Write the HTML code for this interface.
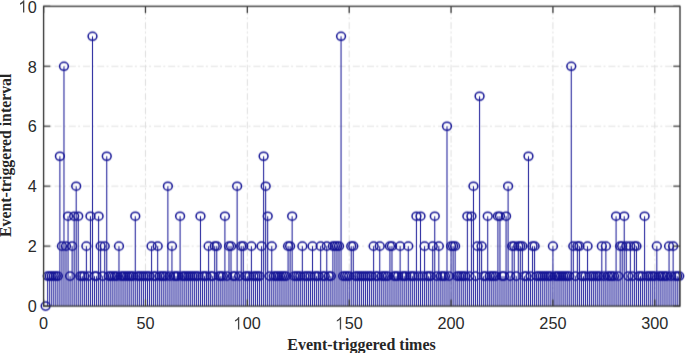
<!DOCTYPE html>
<html><head><meta charset="utf-8"><style>
html,body{margin:0;padding:0;background:#fff;width:685px;height:353px;overflow:hidden;font-family:"Liberation Sans",sans-serif;}
svg{display:block}
</style></head><body>
<svg width="685" height="353" viewBox="0 0 685 353"><defs><filter id="bl" x="0" y="0" width="685" height="353" filterUnits="userSpaceOnUse" color-interpolation-filters="sRGB"><feConvolveMatrix order="3" kernelMatrix="0.01600 0.16800 0.01600 0.04800 0.50400 0.04800 0.01600 0.16800 0.01600" divisor="1" edgeMode="none"/></filter></defs><rect width="685" height="353" fill="#fff"/><g filter="url(#bl)"><g stroke="#dfdfdf" stroke-width="1" stroke-dasharray="7 2.3 2 2.9"><line x1="145.47" y1="6.35" x2="145.47" y2="306.1" stroke-dashoffset="12.55"/><line x1="247.33" y1="6.35" x2="247.33" y2="306.1" stroke-dashoffset="12.55"/><line x1="349.20" y1="6.35" x2="349.20" y2="306.1" stroke-dashoffset="12.55"/><line x1="451.06" y1="6.35" x2="451.06" y2="306.1" stroke-dashoffset="12.55"/><line x1="552.93" y1="6.35" x2="552.93" y2="306.1" stroke-dashoffset="12.55"/><line x1="654.79" y1="6.35" x2="654.79" y2="306.1" stroke-dashoffset="12.55"/><line x1="43.6" y1="246.15" x2="680.0" y2="246.15" stroke-dashoffset="3.2"/><line x1="43.6" y1="186.20" x2="680.0" y2="186.20" stroke-dashoffset="3.2"/><line x1="43.6" y1="126.25" x2="680.0" y2="126.25" stroke-dashoffset="3.2"/><line x1="43.6" y1="66.30" x2="680.0" y2="66.30" stroke-dashoffset="3.2"/></g>
<path d="M47.67 306.1V276.12M49.71 306.1V276.12M51.75 306.1V276.12M53.79 306.1V276.12M55.82 306.1V276.12M57.86 306.1V276.12M59.90 306.1V156.23M61.94 306.1V246.15M63.97 306.1V66.30M66.01 306.1V246.15M68.05 306.1V216.18M70.08 306.1V276.12M72.12 306.1V246.15M74.16 306.1V216.18M76.20 306.1V186.20M78.23 306.1V216.18M80.27 306.1V276.12M82.31 306.1V276.12M84.35 306.1V276.12M86.38 306.1V246.15M88.42 306.1V276.12M90.46 306.1V216.18M92.50 306.1V36.32M94.53 306.1V276.12M96.57 306.1V276.12M98.61 306.1V216.18M100.64 306.1V246.15M102.68 306.1V276.12M104.72 306.1V246.15M106.76 306.1V156.23M108.79 306.1V276.12M110.83 306.1V276.12M112.87 306.1V276.12M114.91 306.1V276.12M116.94 306.1V276.12M118.98 306.1V246.15M121.02 306.1V276.12M123.05 306.1V276.12M125.09 306.1V276.12M127.13 306.1V276.12M129.17 306.1V276.12M131.20 306.1V276.12M133.24 306.1V276.12M135.28 306.1V216.18M137.32 306.1V276.12M139.35 306.1V276.12M141.39 306.1V276.12M143.43 306.1V276.12M145.47 306.1V276.12M147.50 306.1V276.12M149.54 306.1V276.12M151.58 306.1V246.15M153.61 306.1V276.12M155.65 306.1V276.12M157.69 306.1V246.15M159.73 306.1V276.12M161.76 306.1V276.12M163.80 306.1V276.12M165.84 306.1V276.12M167.88 306.1V186.20M169.91 306.1V276.12M171.95 306.1V246.15M173.99 306.1V276.12M176.02 306.1V276.12M178.06 306.1V276.12M180.10 306.1V216.18M182.14 306.1V276.12M184.17 306.1V276.12M186.21 306.1V276.12M188.25 306.1V276.12M190.29 306.1V276.12M192.32 306.1V276.12M194.36 306.1V276.12M196.40 306.1V276.12M198.43 306.1V276.12M200.47 306.1V216.18M202.51 306.1V276.12M204.55 306.1V276.12M206.58 306.1V276.12M208.62 306.1V246.15M210.66 306.1V276.12M212.70 306.1V276.12M214.73 306.1V246.15M216.77 306.1V246.15M218.81 306.1V276.12M220.85 306.1V276.12M222.88 306.1V276.12M224.92 306.1V216.18M226.96 306.1V276.12M228.99 306.1V246.15M231.03 306.1V246.15M233.07 306.1V276.12M235.11 306.1V276.12M237.14 306.1V186.20M239.18 306.1V276.12M241.22 306.1V246.15M243.26 306.1V246.15M245.29 306.1V276.12M247.33 306.1V276.12M249.37 306.1V276.12M251.40 306.1V246.15M253.44 306.1V276.12M255.48 306.1V276.12M257.52 306.1V276.12M259.55 306.1V276.12M261.59 306.1V246.15M263.63 306.1V156.23M265.67 306.1V186.20M267.70 306.1V216.18M269.74 306.1V276.12M271.78 306.1V246.15M273.81 306.1V276.12M275.85 306.1V276.12M277.89 306.1V276.12M279.93 306.1V276.12M281.96 306.1V276.12M284.00 306.1V276.12M286.04 306.1V276.12M288.08 306.1V246.15M290.11 306.1V246.15M292.15 306.1V216.18M294.19 306.1V276.12M296.23 306.1V276.12M298.26 306.1V276.12M300.30 306.1V276.12M302.34 306.1V246.15M304.37 306.1V276.12M306.41 306.1V276.12M308.45 306.1V276.12M310.49 306.1V276.12M312.52 306.1V246.15M314.56 306.1V276.12M316.60 306.1V276.12M318.64 306.1V276.12M320.67 306.1V246.15M322.71 306.1V276.12M324.75 306.1V276.12M326.78 306.1V246.15M328.82 306.1V276.12M330.86 306.1V276.12M332.90 306.1V246.15M334.93 306.1V246.15M336.97 306.1V246.15M339.01 306.1V246.15M341.05 306.1V36.32M343.08 306.1V276.12M345.12 306.1V276.12M347.16 306.1V276.12M349.20 306.1V276.12M351.23 306.1V246.15M353.27 306.1V246.15M355.31 306.1V276.12M357.34 306.1V276.12M359.38 306.1V276.12M361.42 306.1V276.12M363.46 306.1V276.12M365.49 306.1V276.12M367.53 306.1V276.12M369.57 306.1V276.12M371.61 306.1V276.12M373.64 306.1V246.15M375.68 306.1V276.12M377.72 306.1V276.12M379.75 306.1V246.15M381.79 306.1V276.12M383.83 306.1V276.12M385.87 306.1V276.12M387.90 306.1V276.12M389.94 306.1V246.15M391.98 306.1V246.15M394.02 306.1V276.12M396.05 306.1V276.12M398.09 306.1V276.12M400.13 306.1V246.15M402.16 306.1V276.12M404.20 306.1V276.12M406.24 306.1V276.12M408.28 306.1V246.15M410.31 306.1V276.12M412.35 306.1V276.12M414.39 306.1V276.12M416.43 306.1V216.18M418.46 306.1V276.12M420.50 306.1V216.18M422.54 306.1V276.12M424.58 306.1V246.15M426.61 306.1V276.12M428.65 306.1V276.12M430.69 306.1V276.12M432.72 306.1V246.15M434.76 306.1V216.18M436.80 306.1V276.12M438.84 306.1V246.15M440.87 306.1V276.12M442.91 306.1V276.12M444.95 306.1V276.12M446.99 306.1V126.25M449.02 306.1V276.12M451.06 306.1V246.15M453.10 306.1V246.15M455.13 306.1V246.15M457.17 306.1V276.12M459.21 306.1V276.12M461.25 306.1V276.12M463.28 306.1V276.12M465.32 306.1V276.12M467.36 306.1V216.18M469.40 306.1V276.12M471.43 306.1V216.18M473.47 306.1V186.20M475.51 306.1V276.12M477.54 306.1V246.15M479.58 306.1V96.28M481.62 306.1V246.15M483.66 306.1V276.12M485.69 306.1V276.12M487.73 306.1V216.18M489.77 306.1V276.12M491.81 306.1V276.12M493.84 306.1V276.12M495.88 306.1V276.12M497.92 306.1V216.18M499.96 306.1V216.18M501.99 306.1V276.12M504.03 306.1V276.12M506.07 306.1V216.18M508.10 306.1V186.20M510.14 306.1V276.12M512.18 306.1V246.15M514.22 306.1V246.15M516.25 306.1V276.12M518.29 306.1V246.15M520.33 306.1V246.15M522.37 306.1V246.15M524.40 306.1V276.12M526.44 306.1V276.12M528.48 306.1V156.23M530.51 306.1V276.12M532.55 306.1V246.15M534.59 306.1V246.15M536.63 306.1V276.12M538.66 306.1V276.12M540.70 306.1V276.12M542.74 306.1V276.12M544.78 306.1V276.12M546.81 306.1V276.12M548.85 306.1V276.12M550.89 306.1V276.12M552.93 306.1V246.15M554.96 306.1V276.12M557.00 306.1V276.12M559.04 306.1V276.12M561.07 306.1V276.12M563.11 306.1V276.12M565.15 306.1V276.12M567.19 306.1V276.12M569.22 306.1V276.12M571.26 306.1V66.30M573.30 306.1V246.15M575.34 306.1V276.12M577.37 306.1V246.15M579.41 306.1V246.15M581.45 306.1V276.12M583.48 306.1V276.12M585.52 306.1V276.12M587.56 306.1V246.15M589.60 306.1V276.12M591.63 306.1V276.12M593.67 306.1V276.12M595.71 306.1V276.12M597.75 306.1V276.12M599.78 306.1V276.12M601.82 306.1V246.15M603.86 306.1V276.12M605.89 306.1V246.15M607.93 306.1V276.12M609.97 306.1V276.12M612.01 306.1V276.12M614.04 306.1V276.12M616.08 306.1V216.18M618.12 306.1V276.12M620.16 306.1V246.15M622.19 306.1V246.15M624.23 306.1V216.18M626.27 306.1V246.15M628.31 306.1V276.12M630.34 306.1V246.15M632.38 306.1V276.12M634.42 306.1V246.15M636.45 306.1V246.15M638.49 306.1V276.12M640.53 306.1V276.12M642.57 306.1V276.12M644.60 306.1V216.18M646.64 306.1V276.12M648.68 306.1V276.12M650.72 306.1V276.12M652.75 306.1V276.12M654.79 306.1V276.12M656.83 306.1V246.15M658.86 306.1V276.12M660.90 306.1V276.12M662.94 306.1V276.12M664.98 306.1V276.12M667.01 306.1V276.12M669.05 306.1V246.15M671.09 306.1V276.12M673.13 306.1V246.15M675.16 306.1V276.12M677.20 306.1V276.12M679.24 306.1V276.12" stroke="#121294" stroke-width="1" fill="none" stroke-opacity="1"/>
<g fill="none" stroke="#121294" stroke-width="1.5"><ellipse cx="45.64" cy="306.10" rx="4.4" ry="4.05"/><ellipse cx="47.67" cy="276.12" rx="4.4" ry="4.05"/><ellipse cx="49.71" cy="276.12" rx="4.4" ry="4.05"/><ellipse cx="51.75" cy="276.12" rx="4.4" ry="4.05"/><ellipse cx="53.79" cy="276.12" rx="4.4" ry="4.05"/><ellipse cx="55.82" cy="276.12" rx="4.4" ry="4.05"/><ellipse cx="57.86" cy="276.12" rx="4.4" ry="4.05"/><ellipse cx="59.90" cy="156.23" rx="4.4" ry="4.05"/><ellipse cx="61.94" cy="246.15" rx="4.4" ry="4.05"/><ellipse cx="63.97" cy="66.30" rx="4.4" ry="4.05"/><ellipse cx="66.01" cy="246.15" rx="4.4" ry="4.05"/><ellipse cx="68.05" cy="216.18" rx="4.4" ry="4.05"/><ellipse cx="70.08" cy="276.12" rx="4.4" ry="4.05"/><ellipse cx="72.12" cy="246.15" rx="4.4" ry="4.05"/><ellipse cx="74.16" cy="216.18" rx="4.4" ry="4.05"/><ellipse cx="76.20" cy="186.20" rx="4.4" ry="4.05"/><ellipse cx="78.23" cy="216.18" rx="4.4" ry="4.05"/><ellipse cx="80.27" cy="276.12" rx="4.4" ry="4.05"/><ellipse cx="82.31" cy="276.12" rx="4.4" ry="4.05"/><ellipse cx="84.35" cy="276.12" rx="4.4" ry="4.05"/><ellipse cx="86.38" cy="246.15" rx="4.4" ry="4.05"/><ellipse cx="88.42" cy="276.12" rx="4.4" ry="4.05"/><ellipse cx="90.46" cy="216.18" rx="4.4" ry="4.05"/><ellipse cx="92.50" cy="36.32" rx="4.4" ry="4.05"/><ellipse cx="94.53" cy="276.12" rx="4.4" ry="4.05"/><ellipse cx="96.57" cy="276.12" rx="4.4" ry="4.05"/><ellipse cx="98.61" cy="216.18" rx="4.4" ry="4.05"/><ellipse cx="100.64" cy="246.15" rx="4.4" ry="4.05"/><ellipse cx="102.68" cy="276.12" rx="4.4" ry="4.05"/><ellipse cx="104.72" cy="246.15" rx="4.4" ry="4.05"/><ellipse cx="106.76" cy="156.23" rx="4.4" ry="4.05"/><ellipse cx="108.79" cy="276.12" rx="4.4" ry="4.05"/><ellipse cx="110.83" cy="276.12" rx="4.4" ry="4.05"/><ellipse cx="112.87" cy="276.12" rx="4.4" ry="4.05"/><ellipse cx="114.91" cy="276.12" rx="4.4" ry="4.05"/><ellipse cx="116.94" cy="276.12" rx="4.4" ry="4.05"/><ellipse cx="118.98" cy="246.15" rx="4.4" ry="4.05"/><ellipse cx="121.02" cy="276.12" rx="4.4" ry="4.05"/><ellipse cx="123.05" cy="276.12" rx="4.4" ry="4.05"/><ellipse cx="125.09" cy="276.12" rx="4.4" ry="4.05"/><ellipse cx="127.13" cy="276.12" rx="4.4" ry="4.05"/><ellipse cx="129.17" cy="276.12" rx="4.4" ry="4.05"/><ellipse cx="131.20" cy="276.12" rx="4.4" ry="4.05"/><ellipse cx="133.24" cy="276.12" rx="4.4" ry="4.05"/><ellipse cx="135.28" cy="216.18" rx="4.4" ry="4.05"/><ellipse cx="137.32" cy="276.12" rx="4.4" ry="4.05"/><ellipse cx="139.35" cy="276.12" rx="4.4" ry="4.05"/><ellipse cx="141.39" cy="276.12" rx="4.4" ry="4.05"/><ellipse cx="143.43" cy="276.12" rx="4.4" ry="4.05"/><ellipse cx="145.47" cy="276.12" rx="4.4" ry="4.05"/><ellipse cx="147.50" cy="276.12" rx="4.4" ry="4.05"/><ellipse cx="149.54" cy="276.12" rx="4.4" ry="4.05"/><ellipse cx="151.58" cy="246.15" rx="4.4" ry="4.05"/><ellipse cx="153.61" cy="276.12" rx="4.4" ry="4.05"/><ellipse cx="155.65" cy="276.12" rx="4.4" ry="4.05"/><ellipse cx="157.69" cy="246.15" rx="4.4" ry="4.05"/><ellipse cx="159.73" cy="276.12" rx="4.4" ry="4.05"/><ellipse cx="161.76" cy="276.12" rx="4.4" ry="4.05"/><ellipse cx="163.80" cy="276.12" rx="4.4" ry="4.05"/><ellipse cx="165.84" cy="276.12" rx="4.4" ry="4.05"/><ellipse cx="167.88" cy="186.20" rx="4.4" ry="4.05"/><ellipse cx="169.91" cy="276.12" rx="4.4" ry="4.05"/><ellipse cx="171.95" cy="246.15" rx="4.4" ry="4.05"/><ellipse cx="173.99" cy="276.12" rx="4.4" ry="4.05"/><ellipse cx="176.02" cy="276.12" rx="4.4" ry="4.05"/><ellipse cx="178.06" cy="276.12" rx="4.4" ry="4.05"/><ellipse cx="180.10" cy="216.18" rx="4.4" ry="4.05"/><ellipse cx="182.14" cy="276.12" rx="4.4" ry="4.05"/><ellipse cx="184.17" cy="276.12" rx="4.4" ry="4.05"/><ellipse cx="186.21" cy="276.12" rx="4.4" ry="4.05"/><ellipse cx="188.25" cy="276.12" rx="4.4" ry="4.05"/><ellipse cx="190.29" cy="276.12" rx="4.4" ry="4.05"/><ellipse cx="192.32" cy="276.12" rx="4.4" ry="4.05"/><ellipse cx="194.36" cy="276.12" rx="4.4" ry="4.05"/><ellipse cx="196.40" cy="276.12" rx="4.4" ry="4.05"/><ellipse cx="198.43" cy="276.12" rx="4.4" ry="4.05"/><ellipse cx="200.47" cy="216.18" rx="4.4" ry="4.05"/><ellipse cx="202.51" cy="276.12" rx="4.4" ry="4.05"/><ellipse cx="204.55" cy="276.12" rx="4.4" ry="4.05"/><ellipse cx="206.58" cy="276.12" rx="4.4" ry="4.05"/><ellipse cx="208.62" cy="246.15" rx="4.4" ry="4.05"/><ellipse cx="210.66" cy="276.12" rx="4.4" ry="4.05"/><ellipse cx="212.70" cy="276.12" rx="4.4" ry="4.05"/><ellipse cx="214.73" cy="246.15" rx="4.4" ry="4.05"/><ellipse cx="216.77" cy="246.15" rx="4.4" ry="4.05"/><ellipse cx="218.81" cy="276.12" rx="4.4" ry="4.05"/><ellipse cx="220.85" cy="276.12" rx="4.4" ry="4.05"/><ellipse cx="222.88" cy="276.12" rx="4.4" ry="4.05"/><ellipse cx="224.92" cy="216.18" rx="4.4" ry="4.05"/><ellipse cx="226.96" cy="276.12" rx="4.4" ry="4.05"/><ellipse cx="228.99" cy="246.15" rx="4.4" ry="4.05"/><ellipse cx="231.03" cy="246.15" rx="4.4" ry="4.05"/><ellipse cx="233.07" cy="276.12" rx="4.4" ry="4.05"/><ellipse cx="235.11" cy="276.12" rx="4.4" ry="4.05"/><ellipse cx="237.14" cy="186.20" rx="4.4" ry="4.05"/><ellipse cx="239.18" cy="276.12" rx="4.4" ry="4.05"/><ellipse cx="241.22" cy="246.15" rx="4.4" ry="4.05"/><ellipse cx="243.26" cy="246.15" rx="4.4" ry="4.05"/><ellipse cx="245.29" cy="276.12" rx="4.4" ry="4.05"/><ellipse cx="247.33" cy="276.12" rx="4.4" ry="4.05"/><ellipse cx="249.37" cy="276.12" rx="4.4" ry="4.05"/><ellipse cx="251.40" cy="246.15" rx="4.4" ry="4.05"/><ellipse cx="253.44" cy="276.12" rx="4.4" ry="4.05"/><ellipse cx="255.48" cy="276.12" rx="4.4" ry="4.05"/><ellipse cx="257.52" cy="276.12" rx="4.4" ry="4.05"/><ellipse cx="259.55" cy="276.12" rx="4.4" ry="4.05"/><ellipse cx="261.59" cy="246.15" rx="4.4" ry="4.05"/><ellipse cx="263.63" cy="156.23" rx="4.4" ry="4.05"/><ellipse cx="265.67" cy="186.20" rx="4.4" ry="4.05"/><ellipse cx="267.70" cy="216.18" rx="4.4" ry="4.05"/><ellipse cx="269.74" cy="276.12" rx="4.4" ry="4.05"/><ellipse cx="271.78" cy="246.15" rx="4.4" ry="4.05"/><ellipse cx="273.81" cy="276.12" rx="4.4" ry="4.05"/><ellipse cx="275.85" cy="276.12" rx="4.4" ry="4.05"/><ellipse cx="277.89" cy="276.12" rx="4.4" ry="4.05"/><ellipse cx="279.93" cy="276.12" rx="4.4" ry="4.05"/><ellipse cx="281.96" cy="276.12" rx="4.4" ry="4.05"/><ellipse cx="284.00" cy="276.12" rx="4.4" ry="4.05"/><ellipse cx="286.04" cy="276.12" rx="4.4" ry="4.05"/><ellipse cx="288.08" cy="246.15" rx="4.4" ry="4.05"/><ellipse cx="290.11" cy="246.15" rx="4.4" ry="4.05"/><ellipse cx="292.15" cy="216.18" rx="4.4" ry="4.05"/><ellipse cx="294.19" cy="276.12" rx="4.4" ry="4.05"/><ellipse cx="296.23" cy="276.12" rx="4.4" ry="4.05"/><ellipse cx="298.26" cy="276.12" rx="4.4" ry="4.05"/><ellipse cx="300.30" cy="276.12" rx="4.4" ry="4.05"/><ellipse cx="302.34" cy="246.15" rx="4.4" ry="4.05"/><ellipse cx="304.37" cy="276.12" rx="4.4" ry="4.05"/><ellipse cx="306.41" cy="276.12" rx="4.4" ry="4.05"/><ellipse cx="308.45" cy="276.12" rx="4.4" ry="4.05"/><ellipse cx="310.49" cy="276.12" rx="4.4" ry="4.05"/><ellipse cx="312.52" cy="246.15" rx="4.4" ry="4.05"/><ellipse cx="314.56" cy="276.12" rx="4.4" ry="4.05"/><ellipse cx="316.60" cy="276.12" rx="4.4" ry="4.05"/><ellipse cx="318.64" cy="276.12" rx="4.4" ry="4.05"/><ellipse cx="320.67" cy="246.15" rx="4.4" ry="4.05"/><ellipse cx="322.71" cy="276.12" rx="4.4" ry="4.05"/><ellipse cx="324.75" cy="276.12" rx="4.4" ry="4.05"/><ellipse cx="326.78" cy="246.15" rx="4.4" ry="4.05"/><ellipse cx="328.82" cy="276.12" rx="4.4" ry="4.05"/><ellipse cx="330.86" cy="276.12" rx="4.4" ry="4.05"/><ellipse cx="332.90" cy="246.15" rx="4.4" ry="4.05"/><ellipse cx="334.93" cy="246.15" rx="4.4" ry="4.05"/><ellipse cx="336.97" cy="246.15" rx="4.4" ry="4.05"/><ellipse cx="339.01" cy="246.15" rx="4.4" ry="4.05"/><ellipse cx="341.05" cy="36.32" rx="4.4" ry="4.05"/><ellipse cx="343.08" cy="276.12" rx="4.4" ry="4.05"/><ellipse cx="345.12" cy="276.12" rx="4.4" ry="4.05"/><ellipse cx="347.16" cy="276.12" rx="4.4" ry="4.05"/><ellipse cx="349.20" cy="276.12" rx="4.4" ry="4.05"/><ellipse cx="351.23" cy="246.15" rx="4.4" ry="4.05"/><ellipse cx="353.27" cy="246.15" rx="4.4" ry="4.05"/><ellipse cx="355.31" cy="276.12" rx="4.4" ry="4.05"/><ellipse cx="357.34" cy="276.12" rx="4.4" ry="4.05"/><ellipse cx="359.38" cy="276.12" rx="4.4" ry="4.05"/><ellipse cx="361.42" cy="276.12" rx="4.4" ry="4.05"/><ellipse cx="363.46" cy="276.12" rx="4.4" ry="4.05"/><ellipse cx="365.49" cy="276.12" rx="4.4" ry="4.05"/><ellipse cx="367.53" cy="276.12" rx="4.4" ry="4.05"/><ellipse cx="369.57" cy="276.12" rx="4.4" ry="4.05"/><ellipse cx="371.61" cy="276.12" rx="4.4" ry="4.05"/><ellipse cx="373.64" cy="246.15" rx="4.4" ry="4.05"/><ellipse cx="375.68" cy="276.12" rx="4.4" ry="4.05"/><ellipse cx="377.72" cy="276.12" rx="4.4" ry="4.05"/><ellipse cx="379.75" cy="246.15" rx="4.4" ry="4.05"/><ellipse cx="381.79" cy="276.12" rx="4.4" ry="4.05"/><ellipse cx="383.83" cy="276.12" rx="4.4" ry="4.05"/><ellipse cx="385.87" cy="276.12" rx="4.4" ry="4.05"/><ellipse cx="387.90" cy="276.12" rx="4.4" ry="4.05"/><ellipse cx="389.94" cy="246.15" rx="4.4" ry="4.05"/><ellipse cx="391.98" cy="246.15" rx="4.4" ry="4.05"/><ellipse cx="394.02" cy="276.12" rx="4.4" ry="4.05"/><ellipse cx="396.05" cy="276.12" rx="4.4" ry="4.05"/><ellipse cx="398.09" cy="276.12" rx="4.4" ry="4.05"/><ellipse cx="400.13" cy="246.15" rx="4.4" ry="4.05"/><ellipse cx="402.16" cy="276.12" rx="4.4" ry="4.05"/><ellipse cx="404.20" cy="276.12" rx="4.4" ry="4.05"/><ellipse cx="406.24" cy="276.12" rx="4.4" ry="4.05"/><ellipse cx="408.28" cy="246.15" rx="4.4" ry="4.05"/><ellipse cx="410.31" cy="276.12" rx="4.4" ry="4.05"/><ellipse cx="412.35" cy="276.12" rx="4.4" ry="4.05"/><ellipse cx="414.39" cy="276.12" rx="4.4" ry="4.05"/><ellipse cx="416.43" cy="216.18" rx="4.4" ry="4.05"/><ellipse cx="418.46" cy="276.12" rx="4.4" ry="4.05"/><ellipse cx="420.50" cy="216.18" rx="4.4" ry="4.05"/><ellipse cx="422.54" cy="276.12" rx="4.4" ry="4.05"/><ellipse cx="424.58" cy="246.15" rx="4.4" ry="4.05"/><ellipse cx="426.61" cy="276.12" rx="4.4" ry="4.05"/><ellipse cx="428.65" cy="276.12" rx="4.4" ry="4.05"/><ellipse cx="430.69" cy="276.12" rx="4.4" ry="4.05"/><ellipse cx="432.72" cy="246.15" rx="4.4" ry="4.05"/><ellipse cx="434.76" cy="216.18" rx="4.4" ry="4.05"/><ellipse cx="436.80" cy="276.12" rx="4.4" ry="4.05"/><ellipse cx="438.84" cy="246.15" rx="4.4" ry="4.05"/><ellipse cx="440.87" cy="276.12" rx="4.4" ry="4.05"/><ellipse cx="442.91" cy="276.12" rx="4.4" ry="4.05"/><ellipse cx="444.95" cy="276.12" rx="4.4" ry="4.05"/><ellipse cx="446.99" cy="126.25" rx="4.4" ry="4.05"/><ellipse cx="449.02" cy="276.12" rx="4.4" ry="4.05"/><ellipse cx="451.06" cy="246.15" rx="4.4" ry="4.05"/><ellipse cx="453.10" cy="246.15" rx="4.4" ry="4.05"/><ellipse cx="455.13" cy="246.15" rx="4.4" ry="4.05"/><ellipse cx="457.17" cy="276.12" rx="4.4" ry="4.05"/><ellipse cx="459.21" cy="276.12" rx="4.4" ry="4.05"/><ellipse cx="461.25" cy="276.12" rx="4.4" ry="4.05"/><ellipse cx="463.28" cy="276.12" rx="4.4" ry="4.05"/><ellipse cx="465.32" cy="276.12" rx="4.4" ry="4.05"/><ellipse cx="467.36" cy="216.18" rx="4.4" ry="4.05"/><ellipse cx="469.40" cy="276.12" rx="4.4" ry="4.05"/><ellipse cx="471.43" cy="216.18" rx="4.4" ry="4.05"/><ellipse cx="473.47" cy="186.20" rx="4.4" ry="4.05"/><ellipse cx="475.51" cy="276.12" rx="4.4" ry="4.05"/><ellipse cx="477.54" cy="246.15" rx="4.4" ry="4.05"/><ellipse cx="479.58" cy="96.28" rx="4.4" ry="4.05"/><ellipse cx="481.62" cy="246.15" rx="4.4" ry="4.05"/><ellipse cx="483.66" cy="276.12" rx="4.4" ry="4.05"/><ellipse cx="485.69" cy="276.12" rx="4.4" ry="4.05"/><ellipse cx="487.73" cy="216.18" rx="4.4" ry="4.05"/><ellipse cx="489.77" cy="276.12" rx="4.4" ry="4.05"/><ellipse cx="491.81" cy="276.12" rx="4.4" ry="4.05"/><ellipse cx="493.84" cy="276.12" rx="4.4" ry="4.05"/><ellipse cx="495.88" cy="276.12" rx="4.4" ry="4.05"/><ellipse cx="497.92" cy="216.18" rx="4.4" ry="4.05"/><ellipse cx="499.96" cy="216.18" rx="4.4" ry="4.05"/><ellipse cx="501.99" cy="276.12" rx="4.4" ry="4.05"/><ellipse cx="504.03" cy="276.12" rx="4.4" ry="4.05"/><ellipse cx="506.07" cy="216.18" rx="4.4" ry="4.05"/><ellipse cx="508.10" cy="186.20" rx="4.4" ry="4.05"/><ellipse cx="510.14" cy="276.12" rx="4.4" ry="4.05"/><ellipse cx="512.18" cy="246.15" rx="4.4" ry="4.05"/><ellipse cx="514.22" cy="246.15" rx="4.4" ry="4.05"/><ellipse cx="516.25" cy="276.12" rx="4.4" ry="4.05"/><ellipse cx="518.29" cy="246.15" rx="4.4" ry="4.05"/><ellipse cx="520.33" cy="246.15" rx="4.4" ry="4.05"/><ellipse cx="522.37" cy="246.15" rx="4.4" ry="4.05"/><ellipse cx="524.40" cy="276.12" rx="4.4" ry="4.05"/><ellipse cx="526.44" cy="276.12" rx="4.4" ry="4.05"/><ellipse cx="528.48" cy="156.23" rx="4.4" ry="4.05"/><ellipse cx="530.51" cy="276.12" rx="4.4" ry="4.05"/><ellipse cx="532.55" cy="246.15" rx="4.4" ry="4.05"/><ellipse cx="534.59" cy="246.15" rx="4.4" ry="4.05"/><ellipse cx="536.63" cy="276.12" rx="4.4" ry="4.05"/><ellipse cx="538.66" cy="276.12" rx="4.4" ry="4.05"/><ellipse cx="540.70" cy="276.12" rx="4.4" ry="4.05"/><ellipse cx="542.74" cy="276.12" rx="4.4" ry="4.05"/><ellipse cx="544.78" cy="276.12" rx="4.4" ry="4.05"/><ellipse cx="546.81" cy="276.12" rx="4.4" ry="4.05"/><ellipse cx="548.85" cy="276.12" rx="4.4" ry="4.05"/><ellipse cx="550.89" cy="276.12" rx="4.4" ry="4.05"/><ellipse cx="552.93" cy="246.15" rx="4.4" ry="4.05"/><ellipse cx="554.96" cy="276.12" rx="4.4" ry="4.05"/><ellipse cx="557.00" cy="276.12" rx="4.4" ry="4.05"/><ellipse cx="559.04" cy="276.12" rx="4.4" ry="4.05"/><ellipse cx="561.07" cy="276.12" rx="4.4" ry="4.05"/><ellipse cx="563.11" cy="276.12" rx="4.4" ry="4.05"/><ellipse cx="565.15" cy="276.12" rx="4.4" ry="4.05"/><ellipse cx="567.19" cy="276.12" rx="4.4" ry="4.05"/><ellipse cx="569.22" cy="276.12" rx="4.4" ry="4.05"/><ellipse cx="571.26" cy="66.30" rx="4.4" ry="4.05"/><ellipse cx="573.30" cy="246.15" rx="4.4" ry="4.05"/><ellipse cx="575.34" cy="276.12" rx="4.4" ry="4.05"/><ellipse cx="577.37" cy="246.15" rx="4.4" ry="4.05"/><ellipse cx="579.41" cy="246.15" rx="4.4" ry="4.05"/><ellipse cx="581.45" cy="276.12" rx="4.4" ry="4.05"/><ellipse cx="583.48" cy="276.12" rx="4.4" ry="4.05"/><ellipse cx="585.52" cy="276.12" rx="4.4" ry="4.05"/><ellipse cx="587.56" cy="246.15" rx="4.4" ry="4.05"/><ellipse cx="589.60" cy="276.12" rx="4.4" ry="4.05"/><ellipse cx="591.63" cy="276.12" rx="4.4" ry="4.05"/><ellipse cx="593.67" cy="276.12" rx="4.4" ry="4.05"/><ellipse cx="595.71" cy="276.12" rx="4.4" ry="4.05"/><ellipse cx="597.75" cy="276.12" rx="4.4" ry="4.05"/><ellipse cx="599.78" cy="276.12" rx="4.4" ry="4.05"/><ellipse cx="601.82" cy="246.15" rx="4.4" ry="4.05"/><ellipse cx="603.86" cy="276.12" rx="4.4" ry="4.05"/><ellipse cx="605.89" cy="246.15" rx="4.4" ry="4.05"/><ellipse cx="607.93" cy="276.12" rx="4.4" ry="4.05"/><ellipse cx="609.97" cy="276.12" rx="4.4" ry="4.05"/><ellipse cx="612.01" cy="276.12" rx="4.4" ry="4.05"/><ellipse cx="614.04" cy="276.12" rx="4.4" ry="4.05"/><ellipse cx="616.08" cy="216.18" rx="4.4" ry="4.05"/><ellipse cx="618.12" cy="276.12" rx="4.4" ry="4.05"/><ellipse cx="620.16" cy="246.15" rx="4.4" ry="4.05"/><ellipse cx="622.19" cy="246.15" rx="4.4" ry="4.05"/><ellipse cx="624.23" cy="216.18" rx="4.4" ry="4.05"/><ellipse cx="626.27" cy="246.15" rx="4.4" ry="4.05"/><ellipse cx="628.31" cy="276.12" rx="4.4" ry="4.05"/><ellipse cx="630.34" cy="246.15" rx="4.4" ry="4.05"/><ellipse cx="632.38" cy="276.12" rx="4.4" ry="4.05"/><ellipse cx="634.42" cy="246.15" rx="4.4" ry="4.05"/><ellipse cx="636.45" cy="246.15" rx="4.4" ry="4.05"/><ellipse cx="638.49" cy="276.12" rx="4.4" ry="4.05"/><ellipse cx="640.53" cy="276.12" rx="4.4" ry="4.05"/><ellipse cx="642.57" cy="276.12" rx="4.4" ry="4.05"/><ellipse cx="644.60" cy="216.18" rx="4.4" ry="4.05"/><ellipse cx="646.64" cy="276.12" rx="4.4" ry="4.05"/><ellipse cx="648.68" cy="276.12" rx="4.4" ry="4.05"/><ellipse cx="650.72" cy="276.12" rx="4.4" ry="4.05"/><ellipse cx="652.75" cy="276.12" rx="4.4" ry="4.05"/><ellipse cx="654.79" cy="276.12" rx="4.4" ry="4.05"/><ellipse cx="656.83" cy="246.15" rx="4.4" ry="4.05"/><ellipse cx="658.86" cy="276.12" rx="4.4" ry="4.05"/><ellipse cx="660.90" cy="276.12" rx="4.4" ry="4.05"/><ellipse cx="662.94" cy="276.12" rx="4.4" ry="4.05"/><ellipse cx="664.98" cy="276.12" rx="4.4" ry="4.05"/><ellipse cx="667.01" cy="276.12" rx="4.4" ry="4.05"/><ellipse cx="669.05" cy="246.15" rx="4.4" ry="4.05"/><ellipse cx="671.09" cy="276.12" rx="4.4" ry="4.05"/><ellipse cx="673.13" cy="246.15" rx="4.4" ry="4.05"/><ellipse cx="675.16" cy="276.12" rx="4.4" ry="4.05"/><ellipse cx="677.20" cy="276.12" rx="4.4" ry="4.05"/><ellipse cx="679.24" cy="276.12" rx="4.4" ry="4.05"/></g>
<g stroke="#333333" stroke-width="1.25" fill="none"><rect x="43.6" y="6.35" width="636.4" height="299.75" fill="none" stroke-width="1.35"/><line x1="43.60" y1="306.1" x2="43.60" y2="299.40000000000003"/><line x1="43.60" y1="6.35" x2="43.60" y2="13.05"/><line x1="145.47" y1="306.1" x2="145.47" y2="299.40000000000003"/><line x1="145.47" y1="6.35" x2="145.47" y2="13.05"/><line x1="247.33" y1="306.1" x2="247.33" y2="299.40000000000003"/><line x1="247.33" y1="6.35" x2="247.33" y2="13.05"/><line x1="349.20" y1="306.1" x2="349.20" y2="299.40000000000003"/><line x1="349.20" y1="6.35" x2="349.20" y2="13.05"/><line x1="451.06" y1="306.1" x2="451.06" y2="299.40000000000003"/><line x1="451.06" y1="6.35" x2="451.06" y2="13.05"/><line x1="552.93" y1="306.1" x2="552.93" y2="299.40000000000003"/><line x1="552.93" y1="6.35" x2="552.93" y2="13.05"/><line x1="654.79" y1="306.1" x2="654.79" y2="299.40000000000003"/><line x1="654.79" y1="6.35" x2="654.79" y2="13.05"/><line x1="43.6" y1="306.10" x2="50.300000000000004" y2="306.10"/><line x1="680.0" y1="306.10" x2="673.3" y2="306.10"/><line x1="43.6" y1="246.15" x2="50.300000000000004" y2="246.15"/><line x1="680.0" y1="246.15" x2="673.3" y2="246.15"/><line x1="43.6" y1="186.20" x2="50.300000000000004" y2="186.20"/><line x1="680.0" y1="186.20" x2="673.3" y2="186.20"/><line x1="43.6" y1="126.25" x2="50.300000000000004" y2="126.25"/><line x1="680.0" y1="126.25" x2="673.3" y2="126.25"/><line x1="43.6" y1="66.30" x2="50.300000000000004" y2="66.30"/><line x1="680.0" y1="66.30" x2="673.3" y2="66.30"/><line x1="43.6" y1="6.35" x2="50.300000000000004" y2="6.35"/><line x1="680.0" y1="6.35" x2="673.3" y2="6.35"/></g></g><g font-family="Liberation Sans, sans-serif" font-size="17.2" fill="#2a2a2a"><g transform="translate(39.08 329.40) scale(0.945 1)"><text x="0.00" y="0">0</text></g><g transform="translate(136.43 329.40) scale(0.945 1)"><text x="0.00" y="0">5</text><text x="9.57" y="0">0</text></g><g transform="translate(233.77 329.40) scale(0.945 1)"><path fill="#444" transform="translate(-0.40 0) scale(0.008398 -0.008398)" d="M740 0H575V1147C530 1104 470 1062 396 1020C322 978 255 947 196 926V1100C300 1148 392 1206 470 1272C548 1340 602 1404 634 1466H740Z"/><text x="9.57" y="0">0</text><text x="19.13" y="0">0</text></g><g transform="translate(335.64 329.40) scale(0.945 1)"><path fill="#444" transform="translate(-0.40 0) scale(0.008398 -0.008398)" d="M740 0H575V1147C530 1104 470 1062 396 1020C322 978 255 947 196 926V1100C300 1148 392 1206 470 1272C548 1340 602 1404 634 1466H740Z"/><text x="9.57" y="0">5</text><text x="19.13" y="0">0</text></g><g transform="translate(437.50 329.40) scale(0.945 1)"><text x="0.00" y="0">2</text><text x="9.57" y="0">0</text><text x="19.13" y="0">0</text></g><g transform="translate(539.37 329.40) scale(0.945 1)"><text x="0.00" y="0">2</text><text x="9.57" y="0">5</text><text x="19.13" y="0">0</text></g><g transform="translate(641.23 329.40) scale(0.945 1)"><text x="0.00" y="0">3</text><text x="9.57" y="0">0</text><text x="19.13" y="0">0</text></g><g transform="translate(27.86 312.30) scale(0.945 1)"><text x="0.00" y="0">0</text></g><g transform="translate(27.86 252.35) scale(0.945 1)"><text x="0.00" y="0">2</text></g><g transform="translate(27.86 192.40) scale(0.945 1)"><text x="0.00" y="0">4</text></g><g transform="translate(27.86 132.45) scale(0.945 1)"><text x="0.00" y="0">6</text></g><g transform="translate(27.86 72.50) scale(0.945 1)"><text x="0.00" y="0">8</text></g><g transform="translate(18.82 12.55) scale(0.945 1)"><path fill="#444" transform="translate(-0.40 0) scale(0.008398 -0.008398)" d="M740 0H575V1147C530 1104 470 1062 396 1020C322 978 255 947 196 926V1100C300 1148 392 1206 470 1272C548 1340 602 1404 634 1466H740Z"/><text x="9.57" y="0">0</text></g></g>
<text x="361.5" y="350.4" text-anchor="middle" font-family="Liberation Serif, serif" font-weight="bold" font-size="16" fill="#262626">Event-triggered times</text>
<text transform="translate(11.3 155.3) rotate(-90)" x="0" y="0" text-anchor="middle" font-family="Liberation Serif, serif" font-weight="bold" font-size="15.8" fill="#262626">Event-triggered interval</text></svg>
</body></html>
